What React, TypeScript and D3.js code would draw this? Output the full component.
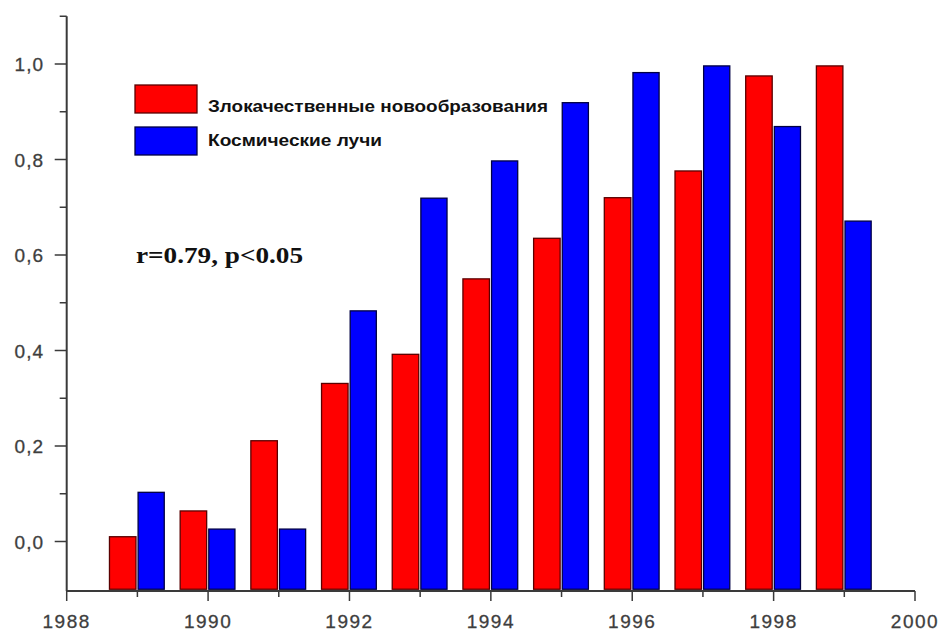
import React from "react";
import * as d3 from "d3";

const years = [1989, 1990, 1991, 1992, 1993, 1994, 1995, 1996, 1997, 1998, 1999];
const malignant = [0.01, 0.064, 0.211, 0.331, 0.392, 0.55, 0.635, 0.72, 0.776, 0.975, 0.996];
const cosmic = [0.103, 0.026, 0.026, 0.483, 0.719, 0.797, 0.919, 0.982, 0.996, 0.869, 0.671];
const seriesNames = ["Злокачественные новообразования", "Космические лучи"];
const xMajor = [1988, 1990, 1992, 1994, 1996, 1998, 2000];
const xMinor = [1989, 1991, 1993, 1995, 1997, 1999];
const yMajor = [0, 0.2, 0.4, 0.6, 0.8, 1.0];
const yMinor = [0.1, 0.3, 0.5, 0.7, 0.9, 1.1];
const annotation = "r=0.79, p<0.05";

export default function App() {
  const W = 941, H = 631;
  const x = d3.scaleLinear().domain([1988, 2000]).range([66.7, 915]);
  const y = d3.scaleLinear().domain([0, 1]).range([541.5, 64]);
  const axisColor = "#3a3a3a";
  const labelColor = "#3e3e3e";
  const yBottom = 591;
  const yTop = y(1.1);
  const barBase = y(-0.1);
  const fmt = (v: number) => d3.format(".1f")(v).replace(".", ",");

  return (
    <svg width={W} height={H} style={{ position: "absolute", left: 0, top: 0, background: "#fff" }}>
      {/* bars */}
      {years.map((yr, i) => (
        <g key={yr}>
          <rect x={x(yr - 0.395)} y={y(malignant[i])} width={x(yr - 0.02) - x(yr - 0.395)}
            height={barBase - y(malignant[i])} fill="#ff0000" stroke="#5a0000" strokeWidth={1.3} />
          <rect x={x(yr + 0.01)} y={y(cosmic[i])} width={x(yr + 0.38) - x(yr + 0.01)}
            height={barBase - y(cosmic[i])} fill="#0000ff" stroke="#000044" strokeWidth={1.3} />
        </g>
      ))}
      {/* axes */}
      <line x1={x(1988)} x2={x(1988)} y1={yTop} y2={yBottom} stroke={axisColor} strokeWidth={2} />
      <line x1={x(1988)} x2={x(2000)} y1={yBottom} y2={yBottom} stroke={axisColor} strokeWidth={2} />
      {yMajor.map((v) => (
        <g key={"ym" + v}>
          <line x1={x(1988) - 12} x2={x(1988)} y1={y(v)} y2={y(v)} stroke={axisColor} strokeWidth={1.5} />
          <text x={44} y={y(v) + 7} textAnchor="end" fontFamily="Liberation Sans, Arial, sans-serif"
            fontSize={19} fill={labelColor} stroke={labelColor} strokeWidth={0.3} letterSpacing={1}>{fmt(v)}</text>
        </g>
      ))}
      {yMinor.map((v) => (
        <line key={"yn" + v} x1={x(1988) - 7} x2={x(1988)} y1={y(v)} y2={y(v)} stroke={axisColor} strokeWidth={1.5} />
      ))}
      {xMajor.map((v) => (
        <g key={"xm" + v}>
          <line x1={x(v)} x2={x(v)} y1={yBottom} y2={yBottom + 10} stroke={axisColor} strokeWidth={1.5} />
          <text x={x(v)} y={628} textAnchor="middle" fontFamily="Liberation Sans, Arial, sans-serif"
            fontSize={19} fill={labelColor} stroke={labelColor} strokeWidth={0.3} letterSpacing={1.5}>{v}</text>
        </g>
      ))}
      {xMinor.map((v) => (
        <line key={"xn" + v} x1={x(v)} x2={x(v)} y1={yBottom} y2={yBottom + 6} stroke={axisColor} strokeWidth={1.5} />
      ))}
      {/* legend */}
      <rect x={135} y={85} width={62} height={28} fill="#ff0000" stroke="#5a0000" strokeWidth={1.3} />
      <rect x={135} y={127} width={62} height={28} fill="#0000ff" stroke="#000044" strokeWidth={1.3} />
      <text x={208} y={111.5} fontFamily="Liberation Sans, Arial, sans-serif" fontWeight="bold" fontSize={17}
        fill="#111" textLength={340} lengthAdjust="spacingAndGlyphs">{seriesNames[0]}</text>
      <text x={208} y={146} fontFamily="Liberation Sans, Arial, sans-serif" fontWeight="bold" fontSize={17}
        fill="#111" textLength={174} lengthAdjust="spacingAndGlyphs">{seriesNames[1]}</text>
      {/* annotation */}
      <text x={136} y={263} fontFamily="Liberation Serif, Times New Roman, serif" fontWeight="bold" fontSize={23}
        fill="#111" textLength={167} lengthAdjust="spacingAndGlyphs">{annotation}</text>
    </svg>
  );
}
